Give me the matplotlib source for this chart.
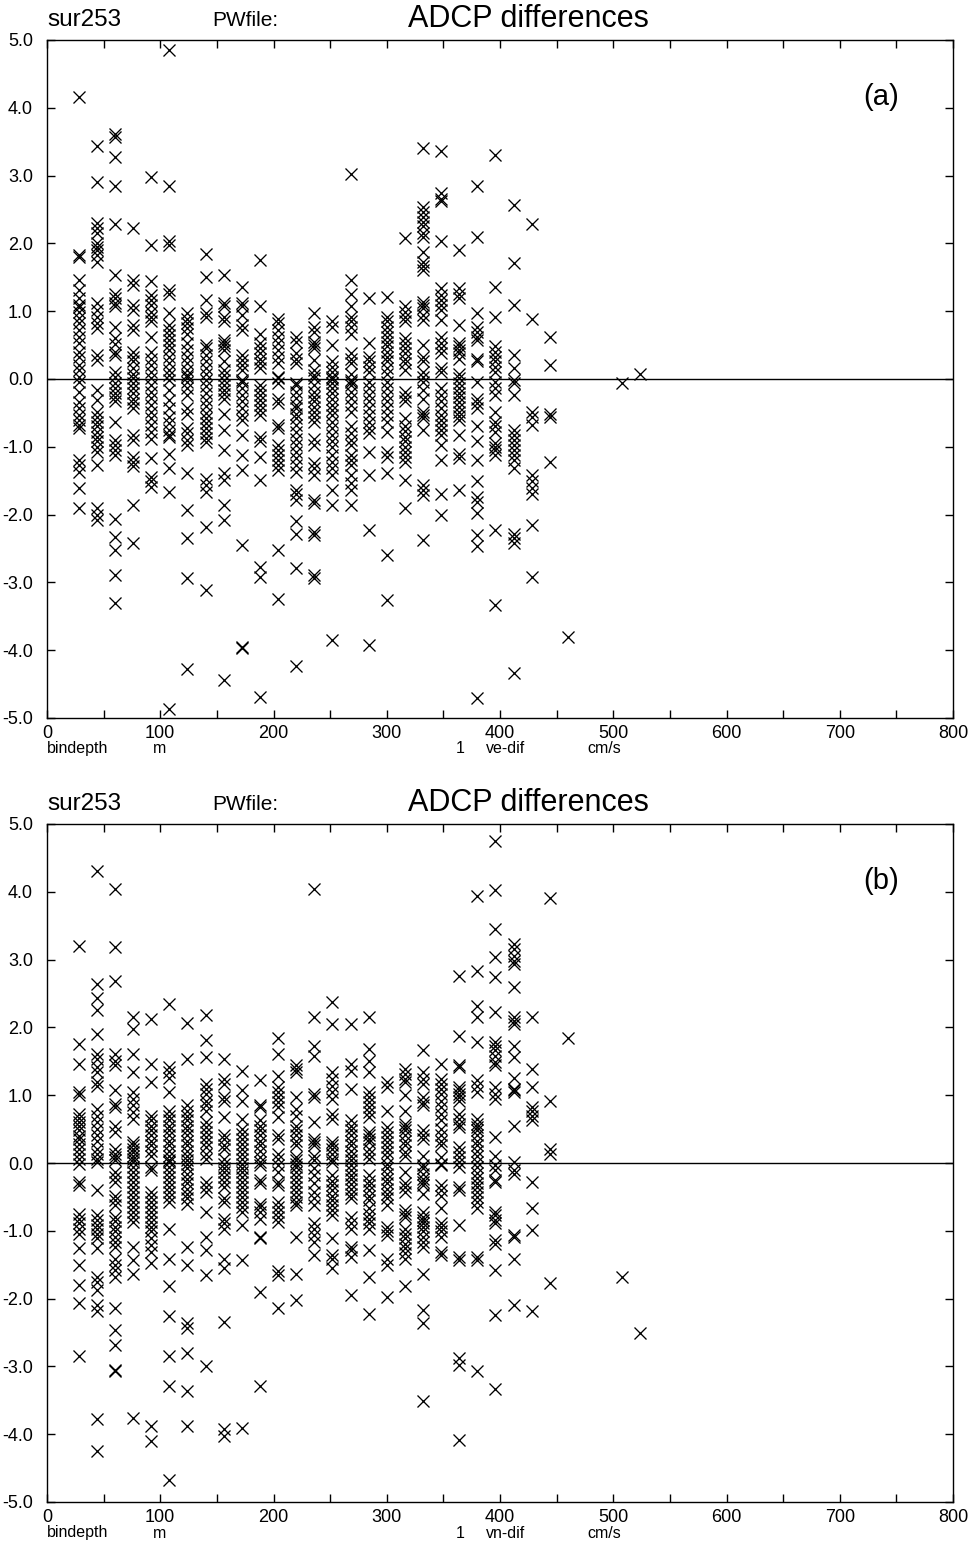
import matplotlib
matplotlib.use("Agg")
import matplotlib.pyplot as plt
from matplotlib.ticker import MultipleLocator

plt.rcParams['font.family'] = ['Liberation Sans', 'DejaVu Sans']

# bin centre depths (m)
bindepth = [28, 44, 60, 76, 92, 108, 124, 140, 156, 172, 188, 204, 220, 236,
            252, 268, 284, 300, 316, 332, 348, 364, 380, 396, 412, 428, 444,
            460, 508, 524]

# eastward velocity differences per bin (cm/s)
ve_dif = [
    [4.16, 1.83, 1.80, 1.46, 1.31, 1.19, 1.09, 1.06, 0.99, 0.90, 0.83, 0.72, 0.62, 0.53, 0.40, 0.32,
     0.21, 0.13, 0.03, -0.04, -0.19, -0.34, -0.43, -0.53, -0.60, -0.68, -0.72, -1.19, -1.27, -1.37,
     -1.61, -1.91],
    [3.43, 2.91, 2.30, 2.22, 2.15, 2.00, 1.95, 1.90, 1.83, 1.73, 1.12, 1.02, 0.92, 0.82, 0.75, 0.35,
     0.28, -0.16, -0.31, -0.48, -0.56, -0.63, -0.70, -0.78, -0.85, -0.92, -1.00, -1.07, -1.27, -1.91,
     -2.00, -2.08],
    [3.62, 3.57, 3.28, 2.84, 2.28, 1.53, 1.26, 1.19, 1.12, 1.07, 0.77, 0.60, 0.52, 0.40, 0.35, 0.11,
     0.03, -0.06, -0.13, -0.20, -0.27, -0.33, -0.63, -0.90, -0.97, -1.05, -1.12, -2.06, -2.33, -2.52,
     -2.89, -3.31],
    [2.22, 1.46, 1.39, 1.09, 1.02, 0.80, 0.72, 0.40, 0.33, 0.26, 0.16, 0.08, 0.01, -0.06, -0.14,
     -0.21, -0.29, -0.36, -0.43, -0.83, -0.90, -1.15, -1.22, -1.29, -1.86, -2.42],
    [2.98, 1.98, 1.44, 1.24, 1.17, 1.09, 0.99, 0.92, 0.85, 0.62, 0.40, 0.30, 0.21, 0.11, 0.01, -0.09,
     -0.19, -0.28, -0.38, -0.48, -0.58, -0.68, -0.78, -0.88, -1.17, -1.44, -1.51, -1.59],
    [4.85, 2.84, 2.03, 1.98, 1.31, 1.26, 0.97, 0.80, 0.72, 0.65, 0.58, 0.50, 0.43, 0.33, 0.23, 0.13,
     0.06, -0.01, -0.16, -0.31, -0.43, -0.56, -0.65, -0.75, -0.83, -0.85, -1.10, -1.32, -1.66, -4.86],
    [0.97, 0.89, 0.82, 0.75, 0.67, 0.53, 0.43, 0.33, 0.23, 0.13, 0.06, 0.03, -0.04, -0.14, -0.24,
     -0.43, -0.51, -0.73, -0.80, -0.90, -0.97, -1.39, -1.93, -2.35, -2.94, -4.27],
    [1.85, 1.51, 1.17, 0.97, 0.92, 0.50, 0.45, 0.35, 0.26, 0.16, 0.08, -0.01, -0.11, -0.21, -0.31,
     -0.40, -0.50, -0.58, -0.65, -0.73, -0.80, -0.87, -0.93, -1.47, -1.56, -1.66, -2.18, -3.11],
    [1.53, 1.12, 1.07, 0.92, 0.85, 0.58, 0.53, 0.48, 0.43, 0.26, 0.13, 0.06, -0.01, -0.09, -0.16,
     -0.22, -0.29, -0.51, -0.75, -1.05, -1.39, -1.49, -1.86, -2.08, -4.44],
    [1.36, 1.12, 1.07, 0.94, 0.80, 0.72, 0.35, 0.28, 0.21, 0.13, -0.01, -0.04, -0.14, -0.24, -0.33,
     -0.43, -0.53, -0.60, -0.83, -1.12, -1.34, -2.45, -3.95, -3.97],
    [1.75, 1.07, 0.67, 0.53, 0.45, 0.38, 0.30, 0.23, 0.16, -0.09, -0.16, -0.24, -0.31, -0.38, -0.46,
     -0.53, -0.85, -0.92, -1.15, -1.49, -2.77, -2.92, -4.69],
    [0.89, 0.82, 0.72, 0.62, 0.53, 0.43, 0.33, 0.23, 0.03, 0.01, -0.06, -0.29, -0.36, -0.68, -0.73,
     -0.97, -1.05, -1.12, -1.19, -1.27, -1.34, -2.52, -3.24],
    [0.62, 0.55, 0.38, 0.30, 0.23, -0.06, -0.09, -0.19, -0.28, -0.38, -0.43, -0.51, -0.58, -0.68,
     -0.78, -0.88, -0.97, -1.07, -1.17, -1.27, -1.37, -1.64, -1.69, -1.78, -2.10, -2.28, -2.79, -4.24],
    [0.97, 0.77, 0.70, 0.55, 0.50, 0.45, 0.28, 0.13, 0.06, 0.01, -0.09, -0.19, -0.26, -0.33, -0.41,
     -0.48, -0.56, -0.63, -0.88, -0.97, -1.24, -1.32, -1.42, -1.78, -1.83, -2.25, -2.30, -2.89, -2.94],
    [0.85, 0.77, 0.50, 0.26, 0.18, 0.11, 0.03, 0.00, -0.06, -0.14, -0.21, -0.29, -0.38, -0.46, -0.53,
     -0.63, -0.73, -0.83, -0.92, -1.00, -1.12, -1.22, -1.32, -1.42, -1.64, -1.86, -3.85],
    [3.03, 1.46, 1.26, 1.07, 0.92, 0.85, 0.77, 0.67, 0.38, 0.30, 0.23, 0.08, -0.01, -0.04, -0.09,
     -0.19, -0.28, -0.38, -0.48, -0.70, -0.80, -0.90, -0.97, -1.12, -1.19, -1.27, -1.42, -1.54, -1.64,
     -1.86],
    [1.19, 0.53, 0.33, 0.26, 0.18, 0.11, -0.04, -0.14, -0.24, -0.33, -0.43, -0.53, -0.63, -0.73,
     -0.80, -1.07, -1.42, -2.23, -3.92],
    [1.21, 0.92, 0.85, 0.77, 0.70, 0.62, 0.55, 0.48, 0.40, 0.33, 0.26, 0.16, 0.08, -0.04, -0.14,
     -0.24, -0.33, -0.43, -0.53, -0.63, -0.78, -1.07, -1.15, -1.39, -2.60, -3.26],
    [2.08, 1.07, 0.99, 0.92, 0.85, 0.60, 0.53, 0.45, 0.38, 0.30, 0.23, 0.13, -0.19, -0.26, -0.33,
     -0.58, -0.70, -0.77, -0.85, -0.92, -1.00, -1.07, -1.15, -1.22, -1.49, -1.91],
    [3.40, 2.54, 2.47, 2.39, 2.32, 2.25, 2.15, 2.10, 1.88, 1.73, 1.66, 1.61, 1.14, 1.09, 1.04, 0.94,
     0.87, 0.50, 0.33, 0.26, 0.11, 0.03, -0.04, -0.16, -0.29, -0.48, -0.53, -0.58, -0.75, -1.56,
     -1.64, -1.71, -2.38],
    [3.36, 2.74, 2.66, 2.62, 2.03, 1.34, 1.24, 1.17, 1.09, 1.02, 0.87, 0.62, 0.53, 0.45, 0.38, 0.16,
     0.11, -0.14, -0.24, -0.33, -0.43, -0.53, -0.60, -0.68, -0.75, -0.83, -0.97, -1.19, -1.69, -2.00],
    [1.90, 1.34, 1.26, 1.19, 0.80, 0.53, 0.48, 0.43, 0.38, 0.30, 0.08, 0.01, -0.06, -0.13, -0.20,
     -0.27, -0.34, -0.41, -0.48, -0.55, -0.60, -0.83, -1.10, -1.17, -1.64],
    [2.84, 2.10, 0.97, 0.77, 0.70, 0.62, 0.57, 0.30, 0.26, -0.04, -0.29, -0.36, -0.43, -0.70, -0.92,
     -1.19, -1.51, -1.74, -1.81, -1.98, -2.30, -2.47, -4.71],
    [3.30, 1.36, 0.92, 0.48, 0.40, 0.33, 0.26, 0.18, 0.11, -0.04, -0.14, -0.24, -0.48, -0.63, -0.70,
     -0.78, -0.95, -1.00, -1.05, -1.12, -2.23, -3.33],
    [2.57, 1.71, 1.09, 0.35, 0.16, -0.01, -0.06, -0.24, -0.75, -0.83, -0.90, -0.97, -1.05, -1.12,
     -1.20, -1.32, -2.28, -2.35, -2.42, -4.34],
    [2.28, 0.89, -0.48, -0.56, -0.68, -1.42, -1.51, -1.61, -1.69, -2.15, -2.92],
    [0.62, 0.21, -0.51, -0.56, -1.22],
    [-3.80],
    [-0.06],
    [0.08],
]

# northward velocity differences per bin (cm/s)
vn_dif = [
    [3.20, 1.75, 1.46, 1.05, 1.00, 0.72, 0.67, 0.60, 0.55, 0.48, 0.40, 0.35, 0.28, 0.20, 0.13, 0.06,
     -0.01, -0.28, -0.33, -0.75, -0.82, -0.89, -0.97, -1.04, -1.26, -1.50, -1.80, -2.07, -2.85],
    [4.30, 2.64, 2.44, 2.25, 1.90, 1.61, 1.53, 1.41, 1.34, 1.19, 1.14, 0.80, 0.70, 0.60, 0.50, 0.42,
     0.33, 0.21, 0.14, 0.06, 0.01, -0.40, -0.77, -0.84, -0.92, -0.97, -1.04, -1.11, -1.26, -1.68,
     -1.75, -1.87, -2.09, -2.19, -3.78, -4.25],
    [4.04, 3.19, 2.68, 1.61, 1.51, 1.44, 1.07, 0.87, 0.82, 0.55, 0.46, 0.21, 0.14, 0.09, 0.04, -0.13,
     -0.21, -0.28, -0.48, -0.55, -0.62, -0.79, -0.86, -0.94, -1.01, -1.09, -1.17, -1.24, -1.41, -1.50,
     -1.58, -1.68, -2.14, -2.46, -2.68, -3.05, -3.07],
    [2.15, 1.98, 1.61, 1.34, 1.04, 0.95, 0.85, 0.75, 0.65, 0.31, 0.26, 0.21, 0.16, 0.11, 0.06, 0.01,
     -0.06, -0.13, -0.21, -0.28, -0.35, -0.43, -0.50, -0.57, -0.65, -0.72, -0.80, -0.87, -1.24, -1.43,
     -1.63, -3.76],
    [2.12, 1.46, 1.19, 0.70, 0.63, 0.55, 0.48, 0.41, 0.33, 0.26, 0.18, 0.11, -0.06, -0.11, -0.43,
     -0.50, -0.57, -0.65, -0.72, -0.80, -0.87, -0.94, -1.01, -1.11, -1.21, -1.31, -1.48, -3.88, -4.10],
    [2.34, 1.41, 1.34, 1.26, 1.04, 0.77, 0.70, 0.63, 0.55, 0.48, 0.41, 0.33, 0.26, 0.18, 0.11, 0.04,
     0.01, -0.06, -0.13, -0.21, -0.28, -0.35, -0.43, -0.50, -0.57, -0.97, -1.41, -1.82, -2.26, -2.85,
     -3.29, -4.67],
    [2.07, 1.53, 0.85, 0.77, 0.70, 0.63, 0.55, 0.48, 0.41, 0.33, 0.26, 0.18, 0.11, 0.04, -0.01,
     -0.08, -0.16, -0.23, -0.30, -0.38, -0.45, -0.52, -0.60, -1.24, -1.50, -2.36, -2.44, -2.80, -3.37,
     -3.88],
    [2.18, 1.81, 1.56, 1.17, 1.09, 1.02, 0.92, 0.85, 0.77, 0.60, 0.53, 0.46, 0.38, 0.31, 0.24, 0.14,
     0.06, -0.28, -0.35, -0.43, -0.72, -1.09, -1.28, -1.65, -3.00],
    [1.53, 1.24, 1.17, 0.97, 0.92, 0.68, 0.41, 0.36, 0.26, 0.21, 0.06, -0.01, -0.07, -0.14, -0.21,
     -0.28, -0.35, -0.52, -0.57, -0.82, -0.89, -0.97, -1.41, -1.55, -2.34, -3.93, -4.03],
    [1.36, 1.07, 0.92, 0.65, 0.50, 0.43, 0.36, 0.28, 0.21, 0.14, 0.06, -0.01, -0.07, -0.14, -0.21,
     -0.28, -0.35, -0.43, -0.50, -0.57, -0.65, -0.72, -0.92, -1.43, -3.91],
    [1.23, 0.85, 0.82, 0.63, 0.55, 0.48, 0.41, 0.33, 0.26, 0.18, 0.09, 0.01, -0.03, -0.25, -0.30,
     -0.60, -0.65, -0.72, -0.82, -1.09, -1.11, -1.90, -3.29],
    [1.85, 1.61, 1.29, 1.12, 1.04, 0.97, 0.90, 0.82, 0.68, 0.41, 0.36, 0.14, 0.06, -0.03, -0.13,
     -0.28, -0.33, -0.57, -0.65, -0.72, -0.80, -0.87, -1.60, -1.65, -2.14],
    [1.44, 1.39, 1.34, 0.97, 0.80, 0.70, 0.55, 0.48, 0.41, 0.33, 0.26, 0.09, 0.04, -0.01, -0.06,
     -0.14, -0.21, -0.28, -0.35, -0.43, -0.50, -0.57, -0.62, -1.09, -1.63, -2.02],
    [4.04, 2.15, 1.73, 1.58, 1.02, 0.97, 0.60, 0.36, 0.31, 0.26, 0.11, 0.04, -0.08, -0.18, -0.30,
     -0.43, -0.52, -0.62, -0.89, -0.97, -1.06, -1.16, -1.36],
    [2.38, 2.05, 1.34, 1.24, 1.14, 1.04, 0.95, 0.73, 0.65, 0.31, 0.26, 0.21, 0.14, 0.06, 0.01, -0.18,
     -0.26, -0.33, -0.40, -0.48, -0.55, -0.62, -0.70, -0.77, -1.11, -1.36, -1.41, -1.55],
    [2.05, 1.46, 1.36, 1.09, 0.63, 0.55, 0.48, 0.41, 0.33, 0.26, 0.18, 0.11, 0.04, -0.03, -0.10,
     -0.17, -0.24, -0.31, -0.38, -0.45, -0.52, -0.79, -0.89, -0.97, -1.24, -1.28, -1.38, -1.95],
    [2.15, 1.68, 1.51, 1.34, 1.04, 0.97, 0.90, 0.82, 0.75, 0.68, 0.46, 0.41, 0.36, 0.31, 0.21, 0.14,
     0.06, -0.18, -0.26, -0.33, -0.40, -0.48, -0.55, -0.67, -0.75, -0.82, -0.89, -0.97, -1.28, -1.68,
     -2.22],
    [1.19, 1.12, 0.77, 0.53, 0.46, 0.38, 0.31, 0.24, 0.16, 0.09, -0.01, -0.08, -0.16, -0.23, -0.30,
     -0.38, -0.45, -0.52, -0.62, -0.94, -1.01, -1.06, -1.41, -1.50, -1.97],
    [1.39, 1.31, 1.24, 1.19, 1.00, 0.77, 0.58, 0.53, 0.48, 0.41, 0.33, 0.26, 0.16, 0.11, -0.13,
     -0.30, -0.35, -0.43, -0.70, -0.75, -0.79, -0.97, -1.04, -1.11, -1.19, -1.26, -1.33, -1.41, -1.82],
    [1.66, 1.34, 1.24, 1.17, 0.97, 0.90, 0.85, 0.48, 0.41, 0.36, 0.11, -0.03, -0.08, -0.16, -0.23,
     -0.28, -0.33, -0.45, -0.72, -0.79, -0.84, -0.89, -0.94, -1.01, -1.09, -1.16, -1.24, -1.63, -2.17,
     -2.36, -3.51],
    [1.46, 1.24, 1.17, 1.09, 1.02, 0.92, 0.82, 0.73, 0.63, 0.50, 0.41, 0.33, 0.26, 0.09, -0.01,
     -0.03, -0.33, -0.40, -0.48, -0.67, -0.89, -0.94, -1.01, -1.09, -1.31, -1.36],
    [2.76, 1.88, 1.44, 1.41, 1.12, 1.07, 1.02, 0.97, 0.92, 0.73, 0.65, 0.58, 0.53, 0.24, 0.16, 0.09,
     0.01, -0.06, -0.35, -0.40, -0.92, -1.38, -1.43, -2.88, -2.98, -4.08],
    [3.94, 2.83, 2.32, 2.15, 1.78, 1.22, 1.14, 1.04, 0.65, 0.58, 0.53, 0.48, 0.41, 0.33, 0.26, 0.18,
     0.11, 0.01, -0.06, -0.15, -0.22, -0.29, -0.36, -0.43, -0.50, -0.57, -0.67, -1.38, -1.43, -3.07],
    [4.75, 4.03, 3.45, 3.04, 2.75, 2.22, 1.78, 1.73, 1.66, 1.58, 1.49, 1.44, 1.12, 1.02, 0.95, 0.38,
     0.11, -0.03, -0.11, -0.25, -0.28, -0.72, -0.77, -0.84, -0.89, -1.14, -1.19, -1.58, -2.24, -3.34],
    [3.23, 3.15, 3.05, 2.98, 2.94, 2.59, 2.15, 2.10, 2.05, 1.73, 1.56, 1.26, 1.09, 1.07, 1.04, 0.55,
     0.01, -0.11, -0.16, -1.06, -1.09, -1.41, -2.09],
    [2.15, 1.39, 1.12, 0.82, 0.77, 0.70, 0.63, -0.28, -0.67, -0.99, -2.19],
    [3.91, 0.92, 0.21, 0.14, -1.77],
    [1.85],
    [-1.68],
    [-2.51],
]

W, H = 976, 1550


def fx(px):
    return px / W


def fy(py):
    return 1 - py / H


def draw_panel(top, values, tag, name):
    ax = fig.add_axes([fx(47), fy(top + 678), 906 / W, 678 / H])
    for depth, vals in zip(bindepth, values):
        ax.plot([depth] * len(vals), vals, linestyle='none', marker='x',
                markersize=8, markeredgewidth=0.95, color='black')
    ax.axhline(0, color='black', linewidth=1.0)
    ax.set_xlim(0, 800)
    ax.set_ylim(-5, 5)
    ax.xaxis.set_major_locator(MultipleLocator(100))
    ax.xaxis.set_minor_locator(MultipleLocator(50))
    ax.yaxis.set_major_locator(MultipleLocator(1))
    ax.tick_params(which='both', direction='in', top=True, right=True,
                   length=6, width=1, labelsize=13)
    ax.tick_params(axis='x', pad=5)
    ax.tick_params(axis='y', pad=10)
    ax.set_yticklabels([f'{v:.1f}' for v in ax.get_yticks()])
    for s in ax.spines.values():
        s.set_linewidth(1)

    ax.text(0.9205, 0.916, tag, transform=ax.transAxes, fontsize=21,
            ha='center', va='center')

    # header line above the frame
    fig.text(fx(47), fy(top - 20), 'sur253', fontsize=17.5, ha='left', va='center')
    fig.text(fx(212), fy(top - 20), 'PWfile:', fontsize=15, ha='left', va='center')
    fig.text(fx(528), fy(top - 21), 'ADCP differences', fontsize=22,
             ha='center', va='center')

    # axis captions under the frame
    base = top + 709
    fig.text(fx(47), fy(base), 'bindepth', fontsize=11.5, ha='left', va='center')
    fig.text(fx(160), fy(base), 'm', fontsize=11.5, ha='center', va='center')
    fig.text(fx(460), fy(base), '1', fontsize=11.5, ha='center', va='center')
    fig.text(fx(506), fy(base), name, fontsize=11.5, ha='center', va='center')
    fig.text(fx(604), fy(base), 'cm/s', fontsize=11.5, ha='center', va='center')
    return ax


fig = plt.figure(figsize=(W / 100, H / 100), dpi=100)
draw_panel(40, ve_dif, '(a)', 've-dif')
draw_panel(824, vn_dif, '(b)', 'vn-dif')

fig.savefig('out.png', dpi=100)
